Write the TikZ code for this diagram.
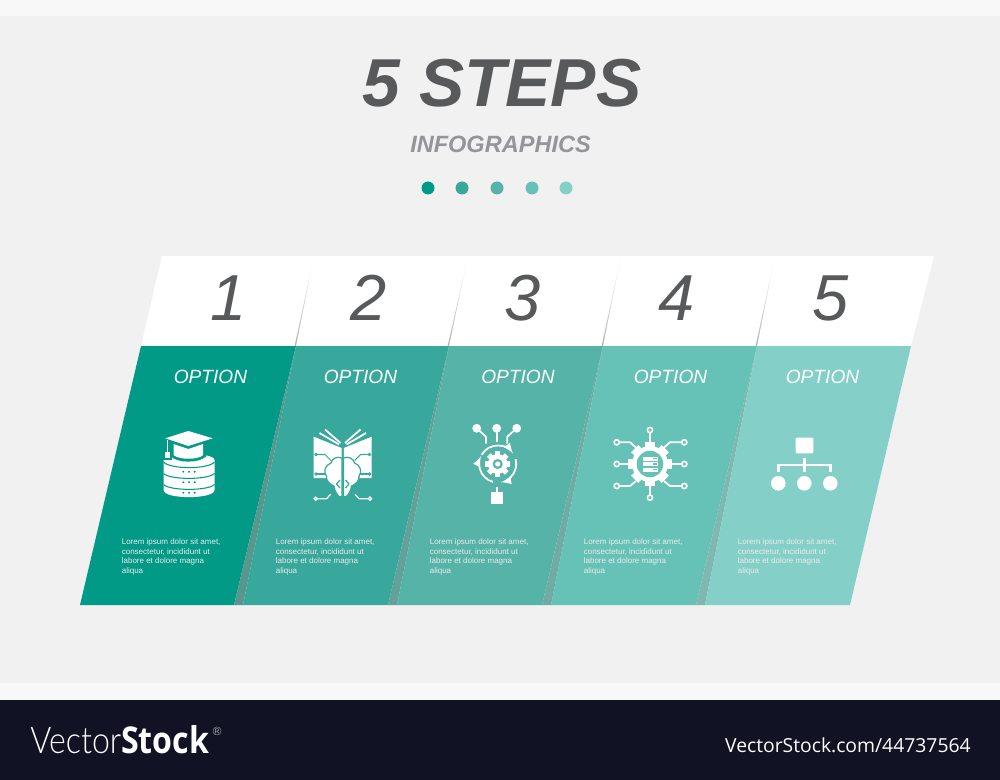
\documentclass[tikz,border=0pt]{standalone}
\usepackage{fontspec}
\usepackage{xcolor}
\setmainfont{Liberation Sans}
\newfontfamily\logofont{Open Sans}
\newfontfamily\logolight{Lato Light}
\definecolor{tealA}{HTML}{009A87}
\definecolor{tealB}{HTML}{38A89C}
\definecolor{tealC}{HTML}{55B3A7}
\definecolor{tealD}{HTML}{66C2B7}
\definecolor{tealE}{HTML}{84D0C8}
\definecolor{stripA}{HTML}{589790}
\definecolor{stripB}{HTML}{63A29B}
\definecolor{stripC}{HTML}{70ACA5}
\definecolor{stripD}{HTML}{7EB8B1}
\definecolor{pagegrey}{HTML}{F1F1F1}
\definecolor{barlight}{HTML}{F8F8F8}
\definecolor{bardark}{HTML}{111325}
\definecolor{inkdark}{HTML}{58595B}
\definecolor{inkmid}{HTML}{939598}
\tikzset{
  numtext/.style={text=inkdark, inner sep=0pt, font=\fontsize{37}{37}\selectfont\itshape},
  optiontext/.style={text=white, inner sep=0pt, font=\fontsize{10.9}{12}\selectfont\itshape},
  loremtext/.style={text=white!92!black, inner sep=0pt, anchor=north west, align=left, font=\fontsize{4.55}{5.4}\selectfont},
  stepdot/.style={circle, inner sep=0pt, minimum size=7.4pt},
  wire/.style={white, line width=1pt, line join=round},
  thinwire/.style={white, line width=0.7pt, line join=round},
  ringend/.style={white, line width=0.9pt},
  loopline/.style={white, line width=1pt, -latex},
}
\begin{document}
\begin{tikzpicture}[x=0.02cm, y=-0.02cm]
  \useasboundingbox (0,0) rectangle (1000,780);
  % Page and footer
  \fill[pagegrey] (0,0) rectangle (1000,683);
  \fill[barlight] (0,0) rectangle (1000,16);
  \fill[barlight] (0,683) rectangle (1000,700);
  \fill[bardark] (0,700) rectangle (1000,780);

  % Title
  \node[text=inkdark, inner sep=0pt, font=\fontsize{38.6}{40}\selectfont\bfseries\itshape] (title) at (502,83) {5 STEPS};
  \node[text=inkmid, inner sep=0pt, font=\fontsize{13.4}{14}\selectfont\bfseries\itshape] (subtitle) at (500.5,144.5) {INFOGRAPHICS};
  \node[stepdot, fill=tealA] (d1) at (428,188) {};
  \node[stepdot, fill=tealB] (d2) at (462,188) {};
  \node[stepdot, fill=tealC] (d3) at (497,188) {};
  \node[stepdot, fill=tealD] (d4) at (532,188) {};
  \node[stepdot, fill=tealE] (d5) at (566,188) {};

  % White header band
  \fill[white] (162,256) -- (934,256) -- (911,346) -- (141,346) -- cycle;
  \shade[top color=white, bottom color=black!30] (314,256) -- (296,346) -- (294.6,346) -- cycle;
  \shade[top color=white, bottom color=black!30] (468,256) -- (449,346) -- (447.6,346) -- cycle;
  \shade[top color=white, bottom color=black!30] (621,256) -- (603,346) -- (601.6,346) -- cycle;
  \shade[top color=white, bottom color=black!30] (775,256) -- (757,346) -- (755.6,346) -- cycle;

  % Panels
  \fill[tealA] (141,346) -- (296,346) -- (234,605) -- (80,605) -- cycle;
  \fill[stripA] (296,346) -- (243,605) -- (234,605) -- cycle;
  \fill[tealB] (296,346) -- (449,346) -- (388,605) -- (243,605) -- cycle;
  \fill[stripB] (449,346) -- (397,605) -- (388,605) -- cycle;
  \fill[tealC] (449,346) -- (603,346) -- (542,605) -- (397,605) -- cycle;
  \fill[stripC] (603,346) -- (551,605) -- (542,605) -- cycle;
  \fill[tealD] (603,346) -- (757,346) -- (696,605) -- (551,605) -- cycle;
  \fill[stripD] (757,346) -- (705,605) -- (696,605) -- cycle;
  \fill[tealE] (757,346) -- (911,346) -- (850,605) -- (705,605) -- cycle;

  % Numbers
  \node[numtext] (n1) at (229,298) {1};
  \node[numtext] (n2) at (369,298) {2};
  \node[numtext] (n3) at (523,298) {3};
  \node[numtext] (n4) at (677,298) {4};
  \node[numtext] (n5) at (831,298) {5};

  % Option labels
  \node[optiontext] (o1) at (210.5,376.5) {OPTION};
  \node[optiontext] (o2) at (360.5,376.5) {OPTION};
  \node[optiontext] (o3) at (518,376.5) {OPTION};
  \node[optiontext] (o4) at (670.5,376.5) {OPTION};
  \node[optiontext] (o5) at (822.5,376.5) {OPTION};

  % Body text
  \node[loremtext] (t1) at (121.5,538.7) {Lorem ipsum dolor sit amet,\\consectetur, incididunt ut\\labore et dolore magna\\aliqua};
  \node[loremtext] (t2) at (275.5,538.7) {Lorem ipsum dolor sit amet,\\consectetur, incididunt ut\\labore et dolore magna\\aliqua};
  \node[loremtext] (t3) at (429.5,538.7) {Lorem ipsum dolor sit amet,\\consectetur, incididunt ut\\labore et dolore magna\\aliqua};
  \node[loremtext] (t4) at (583.5,538.7) {Lorem ipsum dolor sit amet,\\consectetur, incididunt ut\\labore et dolore magna\\aliqua};
  \node[loremtext] (t5) at (737.5,538.7) {Lorem ipsum dolor sit amet,\\consectetur, incididunt ut\\labore et dolore magna\\aliqua};

  % Icon 1: cap on database
  \fill[white] (163.5,460) .. controls (163.5,452) and (214.5,452) .. (214.5,460) -- (214.5,490) .. controls (214.5,499.5) and (163.5,499.5) .. (163.5,490) -- cycle;
  \draw[tealA, line width=0.6pt] (163.5,462) .. controls (170,469.5) and (208,469.5) .. (214.5,462);
  \draw[tealA, line width=0.6pt] (163.5,473.5) .. controls (170,480) and (208,480) .. (214.5,473.5);
  \draw[tealA, line width=0.6pt] (163.5,484.5) .. controls (170,491) and (208,491) .. (214.5,484.5);
  \fill[tealA] (170.5,444) rectangle (206,457) (170.5,456) .. controls (176,463.5) and (201,463.5) .. (206,456) -- cycle;
  \fill[white] (173.5,444) -- (188.3,449) -- (203.2,444) -- (203.2,455) .. controls (198,460) and (179,460) .. (173.5,455) -- cycle;
  \fill[tealA] (162,437) rectangle (172,460);
  \fill[white] (165.3,438.3) -- (188.3,431) -- (212.7,438.3) -- (188.3,446) -- cycle;
  \draw[white, line width=0.5pt] (167.3,440) -- (167.3,452);
  \fill[white] (165.2,451.5) rectangle (169.6,457.5);
  \foreach \x in {183.3,189,194.7} {
    \fill[tealA] (\x,471.7) circle (1.1);
    \fill[tealA] (\x,482.3) circle (1.1);
    \fill[tealA] (\x,492.7) circle (1.1);
  }

  % Icon 2: book and brain
  \fill[white] (313.7,436.7) -- (341.6,448) -- (341.6,460) -- (326,470) -- (326,478) -- (313.7,478) -- cycle;
  \fill[white] (371.7,436.7) -- (343.8,448) -- (343.8,460) -- (359.4,470) -- (359.4,478) -- (371.7,478) -- cycle;
  \draw[white, line width=1pt] (325,429.5) -- (340.5,443);
  \draw[white, line width=1pt] (319.5,433) -- (339,444.5);
  \draw[white, line width=1pt] (360.5,429.5) -- (345,443);
  \draw[white, line width=1pt] (366,433) -- (346.5,444.5);
  % brain halves
  \fill[white, draw=tealB, line width=0.7pt] (342,458) .. controls (337,456) and (332,458.5) .. (331,463) .. controls (325,465) and (323,472) .. (326.5,476) .. controls (325.5,481) and (331,485) .. (334,486) .. controls (334.5,491) and (338,498) .. (342,497) -- cycle;
  \fill[white, draw=tealB, line width=0.7pt] (343.5,458) .. controls (348.5,456) and (353.5,458.5) .. (354.5,463) .. controls (360.5,465) and (362.5,472) .. (359,476) .. controls (360,481) and (354.5,485) .. (351.5,486) .. controls (351,491) and (347.5,498) .. (343.5,497) -- cycle;
  \draw[tealB, line width=0.6pt, line join=round] (316,454.5) -- (325,454.5) -- (331,460.5);
  \draw[tealB, line width=0.6pt, line join=round] (369.5,454.5) -- (360.5,454.5) -- (354.5,460.5);
  \draw[tealB, line width=0.6pt, line join=round] (316,474) -- (325.5,474);
  \draw[tealB, line width=0.6pt, line join=round] (369.5,474) -- (360,474);
  \draw[tealB, line width=0.7pt, line join=round] (340,480) -- (336.5,484) -- (340,488);
  \draw[tealB, line width=0.7pt, line join=round] (345.5,480) -- (349,484) -- (345.5,488);
  \draw[tealB, line width=0.5pt] (316,454.5) circle (1.2);
  \draw[tealB, line width=0.5pt] (369.5,454.5) circle (1.2);
  \draw[tealB, line width=0.5pt] (316,474) circle (1.2);
  \draw[tealB, line width=0.5pt] (369.5,474) circle (1.2);
  \draw[thinwire] (317.5,498.7) -- (326.5,498.7) -- (330.7,494.3);
  \draw[thinwire] (368.2,498.7) -- (359,498.7) -- (355,494.3);
  \draw[ringend, fill=tealB, line width=0.7pt] (315.7,498.7) circle (1.6);
  \draw[ringend, fill=tealB, line width=0.7pt] (370,498.7) circle (1.6);

  % Icon 3: gear with arrows and branches
  \draw[wire] (476.7,428.3) -- (486,436.7) -- (486,443.5);
  \draw[wire] (496.7,428.3) -- (496.7,441.7);
  \draw[wire] (516.7,428.3) -- (507.3,436.7) -- (507.3,443.5);
  \fill[white] (476.7,428.3) circle (4.4);
  \fill[white] (496.7,428.3) circle (4.4);
  \fill[white] (516.7,428.3) circle (4.4);
  \foreach \a in {0,45,...,135} {
    \fill[white, shift={(497.7,464)}, rotate=\a] (-2.6,-12.6) rectangle (2.6,12.6);
  }
  \fill[white] (497.7,464) circle (9.8);
  \fill[tealC] (497.7,464) circle (5);
  \fill[white] (497.7,464) circle (2.6);
  % arrows round the gear
  \draw[loopline, shift={(497.7,464)}] (-150:18.5) arc[start angle=-150, end angle=-35, radius=18.5];
  \draw[loopline, shift={(497.7,464)}] (-15:18.5) arc[start angle=-15, end angle=80, radius=18.5];
  \draw[loopline, shift={(497.7,464)}] (105:18.5) arc[start angle=105, end angle=205, radius=18.5];
  \draw[white, line width=1.2pt] (496.7,487) -- (496.7,492);
  \fill[white] (490.7,491.7) rectangle (503.3,504);

  % Icon 4: gear with server and circuit
  \draw[wire] (650,433) -- (650,446);
  \draw[wire] (650,482) -- (650,495);
  \draw[wire] (619,442.3) -- (630,442.3) -- (636,447.5);
  \draw[wire] (682,442.3) -- (670,442.3) -- (664,447.5);
  \draw[wire] (619,464) -- (628,464);
  \draw[wire] (682,464) -- (672,464);
  \draw[wire] (619,486) -- (630,486) -- (636,481);
  \draw[wire] (682,486) -- (670,486) -- (664,481);
  \draw[ringend, fill=tealD] (650,430) circle (2.6);
  \draw[ringend, fill=tealD] (650,497.7) circle (2.6);
  \draw[ringend, fill=tealD] (616.7,442.3) circle (2.6);
  \draw[ringend, fill=tealD] (684.3,442.3) circle (2.6);
  \draw[ringend, fill=tealD] (616.7,464) circle (2.6);
  \draw[ringend, fill=tealD] (684.3,464) circle (2.6);
  \draw[ringend, fill=tealD] (616.7,486) circle (2.6);
  \draw[ringend, fill=tealD] (684.3,486) circle (2.6);
  \foreach \a in {0,45,...,135} {
    \fill[white, shift={(650,464)}, rotate=\a] (-5,-21.7) rectangle (5,21.7);
  }
  \fill[white] (650,464) circle (18);
  \fill[tealD] (650,464) circle (13.3);
  \fill[white] (642.7,456.5) rectangle (657.7,460.6);
  \fill[white] (642.7,462) rectangle (657.7,466.1);
  \fill[white] (642.7,467.5) rectangle (657.7,471.6);
  \fill[tealD] (652.5,457.8) rectangle (656.5,459.3);
  \fill[tealD] (652.5,463.3) rectangle (656.5,464.8);
  \fill[tealD] (652.5,468.8) rectangle (656.5,470.3);

  % Icon 5: hierarchy
  \fill[white, rounded corners=0.5pt] (795.7,437.7) rectangle (813.3,453.3);
  \draw[white, line width=1.5pt] (804.3,457.7) -- (804.3,471.7);
  \draw[white, line width=1.5pt] (778.3,471.7) -- (778.3,465) -- (830.3,465) -- (830.3,471.7);
  \fill[white] (778.3,483.3) circle (7.3);
  \fill[white] (804.3,483.3) circle (7.3);
  \fill[white] (830.3,483.3) circle (7.3);

  % Footer text
  \node[text=white, inner sep=0pt, anchor=base west, xscale=0.87, font=\fontsize{21}{22}\selectfont] (logo) at (30,753) {{\logolight Vector}{\logofont\bfseries Stock}};
  \node[text=white, inner sep=0pt, anchor=base west, font=\fontsize{6.5}{7}\selectfont\logolight] (reg) at (212,735.5) {®};
  \node[text=white, inner sep=0pt, anchor=base east, font=\fontsize{11}{12}\selectfont\logofont] (ref) at (971,752.7) {VectorStock.com/44737564};
\end{tikzpicture}
\end{document}
